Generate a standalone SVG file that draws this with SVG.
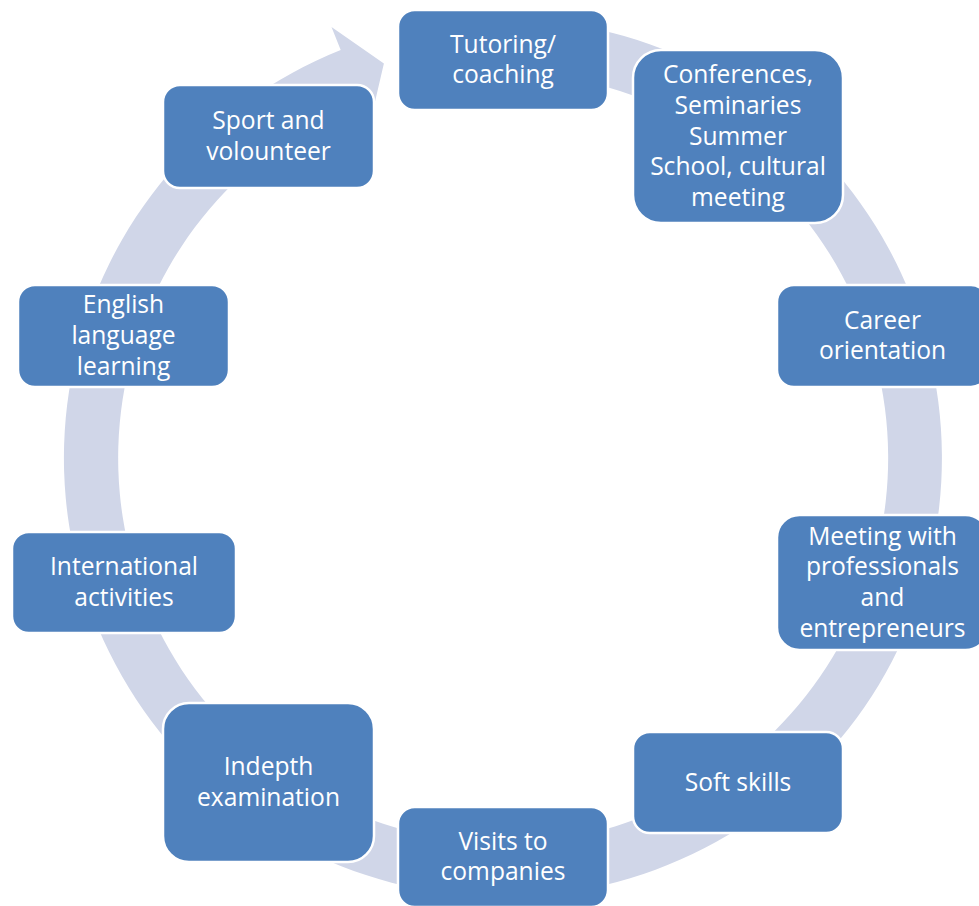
<svg xmlns="http://www.w3.org/2000/svg" width="979" height="906" viewBox="0 0 979 906">
<style>
.box{fill:#4F81BD;stroke:#FFFFFF;stroke-width:2.5}
.lbl{fill:#FFFFFF;font-family:"Open Sans","Noto Sans","Liberation Sans",sans-serif;font-size:24.6px;text-anchor:middle}
.ring{fill:#D0D6E8;stroke:none}
</style>
<rect x="0" y="0" width="979" height="906" fill="#FFFFFF"/>
<g id="connectors">
<path class="ring" d="M518.3,19.3 A439,439 0 1 1 340.7,50.1 L331.5,26.9 L383.9,63.6 L369.9,123.5 L360.7,100.3 A385,385 0 1 0 516.4,73.2 Z"/>
</g>
<g id="n1"><rect class="box" x="398" y="10" width="210" height="100" rx="16.7"/>
<text class="lbl" x="503"><tspan x="503" y="52.6">Tutoring/</tspan><tspan x="503" y="83.3">coaching</tspan></text></g>
<g id="n2"><rect class="box" x="633" y="50" width="210" height="173" rx="28"/>
<text class="lbl"><tspan x="738" y="83.1">Conferences,</tspan><tspan x="738" y="113.8">Seminaries</tspan><tspan x="738" y="144.5">Summer</tspan><tspan x="738" y="175.2">School, cultural</tspan><tspan x="738" y="205.9">meeting</tspan></text></g>
<g id="n3"><rect class="box" x="777" y="285" width="211" height="102" rx="17"/>
<text class="lbl"><tspan x="882.5" y="328.6">Career</tspan><tspan x="882.5" y="359.3">orientation</tspan></text></g>
<g id="n4"><rect class="box" x="777" y="515" width="211" height="135" rx="22.5"/>
<text class="lbl"><tspan x="882.5" y="544.5">Meeting with</tspan><tspan x="882.5" y="575.2">professionals</tspan><tspan x="882.5" y="605.9">and</tspan><tspan x="882.5" y="636.6">entrepreneurs</tspan></text></g>
<g id="n5"><rect class="box" x="633" y="732" width="210" height="101" rx="16.8"/>
<text class="lbl"><tspan x="738" y="790.5">Soft skills</tspan></text></g>
<g id="n6"><rect class="box" x="398" y="807" width="210" height="100" rx="16.7"/>
<text class="lbl"><tspan x="503" y="849.6">Visits to</tspan><tspan x="503" y="880.3">companies</tspan></text></g>
<g id="n7"><rect class="box" x="163" y="703" width="211" height="159" rx="26"/>
<text class="lbl"><tspan x="268.5" y="775.1">Indepth</tspan><tspan x="268.5" y="805.8">examination</tspan></text></g>
<g id="n8"><rect class="box" x="12" y="532" width="224" height="101" rx="16.8"/>
<text class="lbl"><tspan x="124" y="575.1">International</tspan><tspan x="124" y="605.8">activities</tspan></text></g>
<g id="n9"><rect class="box" x="18" y="285" width="211" height="102" rx="17"/>
<text class="lbl"><tspan x="123.5" y="313.3">English</tspan><tspan x="123.5" y="344">language</tspan><tspan x="123.5" y="374.7">learning</tspan></text></g>
<g id="n10"><rect class="box" x="163" y="85" width="211" height="103" rx="17"/>
<text class="lbl"><tspan x="268.5" y="129.1">Sport and</tspan><tspan x="268.5" y="159.8">volounteer</tspan></text></g>
</svg>
